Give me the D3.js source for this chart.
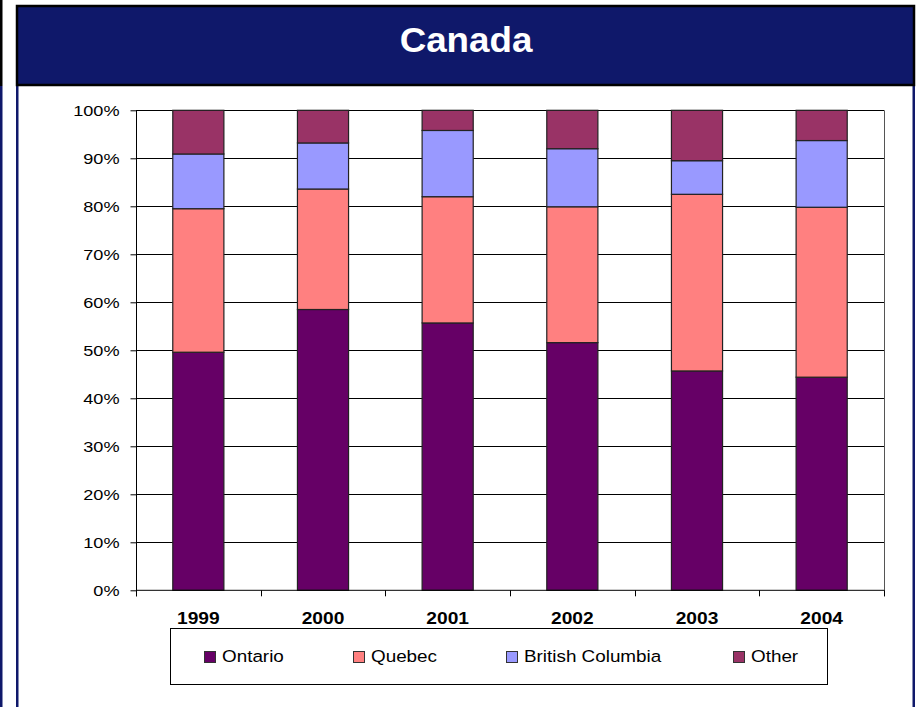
<!DOCTYPE html>
<html>
<head>
<meta charset="utf-8">
<script src="https://cdn.jsdelivr.net/npm/d3@7"></script>
<style>
  html, body { margin: 0; padding: 0; background: #fff; }
  svg { display: block; font-family: Arial, "Liberation Sans", sans-serif; }
</style>
</head>
<body>
<svg id="chart" width="921" height="707"></svg>
<script>
"use strict";

const years = ["1999", "2000", "2001", "2002", "2003", "2004"];
const provinces = ["Ontario", "Quebec", "British Columbia", "Other"];
const ontario = [49.6, 58.5, 55.7, 51.6, 45.7, 44.4];
const quebec = [29.9, 25.1, 26.3, 28.3, 36.8, 35.4];
const britishColumbia = [11.4, 9.6, 13.8, 12.1, 7.0, 13.9];
const other = [9.1, 6.8, 4.2, 8.0, 10.5, 6.3];
const yTicks = [0, 10, 20, 30, 40, 50, 60, 70, 80, 90, 100];
const palette = ["#660066", "#ff8080", "#9999ff", "#993366"];

const navy = "#0f186a";
const stretch = 1.13;  // the picture's text is a bit wide

const rows = years.map(function(yr, i){
    return {year: yr, Ontario: ontario[i], Quebec: quebec[i],
            "British Columbia": britishColumbia[i], Other: other[i]};
});

const svg = d3.select("#chart");

/*-- Frame ------------------------------------------------------------------*/
svg.append("rect").attr("x", 0).attr("y", 0).attr("width", 2.5).attr("height", 86).attr("fill", "#000");
svg.append("rect").attr("x", 0).attr("y", 86).attr("width", 2.5).attr("height", 621).attr("fill", navy);
svg.append("rect").attr("x", 16).attr("y", 86).attr("width", 2.5).attr("height", 621).attr("fill", navy);
svg.append("rect").attr("x", 912.5).attr("y", 86).attr("width", 2.5).attr("height", 621).attr("fill", navy);

svg.append("rect")
   .attr("x", 17).attr("y", 6)
   .attr("width", 897).attr("height", 79)
   .attr("fill", navy)
   .attr("stroke", "#000")
   .attr("stroke-width", 2.5);

svg.append("text")
   .attr("transform", "translate(466,52) scale(1.05,1)")
   .attr("text-anchor", "middle")
   .attr("fill", "#fff")
   .style("font-size", "35px")
   .style("font-weight", "bold")
   .text("Canada");

/*-- Plot -------------------------------------------------------------------*/
const plotLeft = 136, plotRight = 884, plotTop = 110.3, plotBottom = 590.3;

const x = d3.scaleBand().domain(years).range([plotLeft, plotRight]).padding(0);
const y = d3.scaleLinear().domain([0, 100]).range([plotBottom, plotTop]);
const color = d3.scaleOrdinal().domain(provinces).range(palette);

const series = d3.stack().keys(provinces)(rows);

const plot = svg.append("g");

// gridlines
plot.selectAll("line.grid")
    .data(yTicks.filter(function(t){ return t > 0; }))
    .enter()
    .append("line")
    .attr("class", "grid")
    .attr("x1", plotLeft).attr("x2", plotRight)
    .attr("y1", function(d){ return Math.round(y(d)) + 0.5; })
    .attr("y2", function(d){ return Math.round(y(d)) + 0.5; })
    .attr("stroke", "#000")
    .attr("stroke-width", 1);

plot.append("line")
    .attr("x1", plotRight + 0.5).attr("x2", plotRight + 0.5)
    .attr("y1", plotTop).attr("y2", plotBottom + 6)
    .attr("stroke", "#555");

// bars
const barW = x.bandwidth() * 0.41;

plot.selectAll("g.series")
    .data(series)
    .enter()
    .append("g")
    .attr("class", "series")
    .attr("fill", function(d){ return color(d.key); })
    .selectAll("rect")
    .data(function(d){ return d; })
    .enter()
    .append("rect")
    .attr("x", function(d){ return x(d.data.year) + (x.bandwidth() - barW) / 2; })
    .attr("y", function(d){ return y(d[1]); })
    .attr("width", barW)
    .attr("height", function(d){ return y(d[0]) - y(d[1]); })
    .attr("stroke", "#222")
    .attr("stroke-width", 1.2);

// y axis
const yAxis = plot.append("g")
    .attr("transform", "translate(" + (plotLeft + 0.5) + ",0)")
    .call(d3.axisLeft(y).tickValues(yTicks).tickSize(6).tickPadding(11)
          .tickFormat(function(d){ return d + "%"; }));
yAxis.select(".domain").attr("stroke", "#000").attr("d", "M0," + plotTop + "V" + (plotBottom + 6));
yAxis.selectAll(".tick line").attr("stroke", "#000");
yAxis.selectAll(".tick text").remove();
yAxis.selectAll(".tick")
     .append("text")
     .attr("transform", "translate(-17,0) scale(1.17,1)")
     .attr("dy", "0.34em")
     .attr("text-anchor", "end")
     .attr("fill", "#000")
     .style("font-size", "15.5px")
     .style("font-family", "Arial, 'Liberation Sans', sans-serif")
     .text(function(d){ return d + "%"; });

// x axis
const xAxis = plot.append("g")
    .attr("transform", "translate(0," + plotBottom + ")");
xAxis.append("line")
     .attr("x1", plotLeft).attr("x2", plotRight)
     .attr("y1", 0).attr("y2", 0)
     .attr("stroke", "#000");
xAxis.selectAll("line.tick")
     .data(years.concat(["end"]))
     .enter()
     .append("line")
     .attr("class", "tick")
     .attr("x1", function(d){ return d === "end" ? plotRight + 0.5 : Math.round(x(d)) + 0.5; })
     .attr("x2", function(d){ return d === "end" ? plotRight + 0.5 : Math.round(x(d)) + 0.5; })
     .attr("y1", 0).attr("y2", 6)
     .attr("stroke", "#000");
xAxis.selectAll("text.year")
     .data(years)
     .enter()
     .append("text")
     .attr("class", "year")
     .attr("transform", function(d){
         return "translate(" + (x(d) + x.bandwidth() / 2) + ",34) scale(" + stretch + ",1)";
     })
     .attr("text-anchor", "middle")
     .style("font-size", "17px")
     .style("font-weight", "bold")
     .text(function(d){ return d; });

/*-- Legend -----------------------------------------------------------------*/
const legendX = [204, 353, 506, 733];

const legend = svg.append("g");
legend.append("rect")
      .attr("x", 170.5).attr("y", 628.5)
      .attr("width", 657).attr("height", 56)
      .attr("fill", "#fff")
      .attr("stroke", "#000");

const item = legend.selectAll("g.item")
      .data(provinces)
      .enter()
      .append("g")
      .attr("class", "item")
      .attr("transform", function(d, i){ return "translate(" + legendX[i] + ",651)"; });

item.append("rect")
    .attr("x", 0.5).attr("y", 0.5)
    .attr("width", 11).attr("height", 11)
    .attr("fill", function(d){ return color(d); })
    .attr("stroke", "#333");

item.append("text")
    .attr("transform", "translate(18,11) scale(1.11,1)")
    .style("font-size", "17px")
    .text(function(d){ return d; });
</script>
</body>
</html>
